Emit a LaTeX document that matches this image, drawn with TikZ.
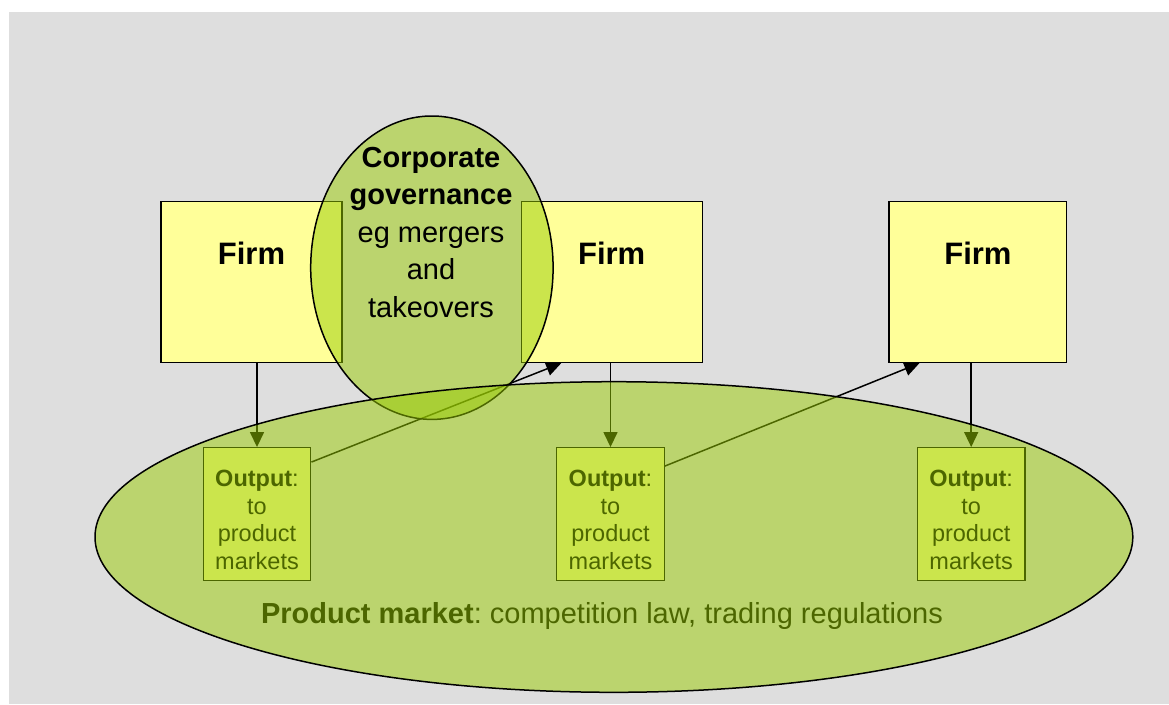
\documentclass[tikz,border=0pt]{standalone}
\usepackage{fontspec}
\setmainfont{Liberation Sans}
\usetikzlibrary{arrows.meta,calc}
\definecolor{bggrey}{HTML}{DEDEDE}
\definecolor{firmyellow}{HTML}{FFFF99}
\definecolor{mgreen}{HTML}{99CC00}
\frenchspacing
\begin{document}
\begin{tikzpicture}[x=1pt,y=-1pt,
  firmbox/.style={draw=black, line width=1.4pt, fill=firmyellow, minimum width=181pt, minimum height=161pt, inner sep=0pt},
  outbox/.style={draw=black, line width=1.4pt, fill=firmyellow, minimum width=107.5pt, minimum height=132.5pt, inner sep=0pt},
  firmtext/.style={font=\bfseries\fontsize{31}{37}\selectfont, anchor=base, inner sep=0pt},
  outtext/.style={font=\fontsize{23.5}{27.5}\selectfont, align=center, inner sep=0pt},
  conn/.style={line width=1.5pt, -{Triangle[width=14pt,length=15pt]}},
  glass/.style={fill=mgreen, fill opacity=0.5, draw=black, line width=1.5pt},
]
\useasboundingbox (0,0) rectangle (1169,704);
\fill[bggrey] (9,12) rectangle (1169,704);

% firms
\node[firmbox] (firm1) at (251.5,282) {};
\node[firmbox] (firm2) at (611.7,282) {};
\node[firmbox, minimum width=177.7pt] (firm3) at (977.9,282) {};
\node[firmtext] (firm1t) at (251.5,264) {Firm};
\node[firmtext] (firm2t) at (611.7,264) {Firm};
\node[firmtext] (firm3t) at (977.9,264) {Firm};

% outputs
\node[outbox] (out1) at (257,514) {};
\node[outbox] (out2) at (610.5,514) {};
\node[outbox] (out3) at (971.2,514) {};
\node[outtext] (out1t) at (257,520) {\textbf{Output}:\\to\\product\\markets};
\node[outtext] (out2t) at (610.5,520) {\textbf{Output}:\\to\\product\\markets};
\node[outtext] (out3t) at (971.2,520) {\textbf{Output}:\\to\\product\\markets};

% connectors
\draw[conn] (firm1.south -| out1.north) -- (out1.north);
\draw[conn] (firm2.south -| out2.north) -- (out2.north);
\draw[conn] (firm3.south -| out3.north) -- (out3.north);
\draw[conn] ($(out1.north east)+(0,15)$) -- ($(firm2.south west)+(40.7,0)$);
\draw[conn] ($(out2.north east)+(0,19)$) -- ($(firm3.south west)+(31,0)$);

% corporate governance
\draw[glass] (431.9,267.7) ellipse [x radius=121.2pt, y radius=151.7pt];
\node[font=\fontsize{29}{37.5}\selectfont, align=center, inner sep=0pt] (corp) at (431,232.5)
  {\textbf{Corporate}\\\textbf{governance}\\eg mergers\\and\\takeovers};

% product market
\node[anchor=base, font=\fontsize{29}{35}\selectfont, inner sep=0pt] (pm) at (602,623)
  {\textbf{Product market}: competition law, trading regulations};
\draw[glass] (613.9,537) ellipse [x radius=518.9pt, y radius=155.3pt];
\end{tikzpicture}
\end{document}
